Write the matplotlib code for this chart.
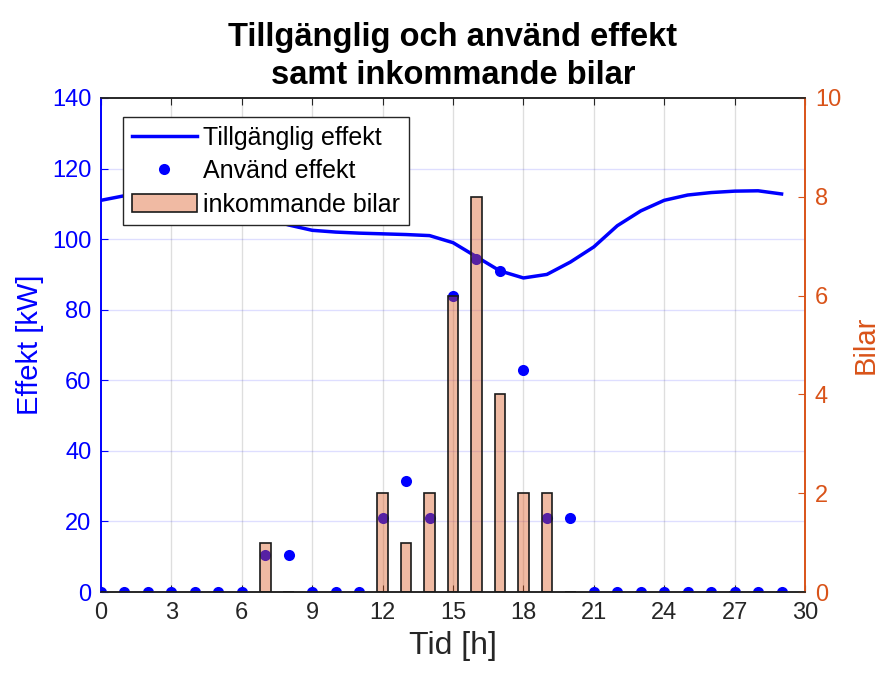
import matplotlib
matplotlib.use("Agg")
import matplotlib.pyplot as plt
from matplotlib.patches import Patch
from matplotlib.lines import Line2D

plt.rcParams["font.family"] = ["Liberation Sans", "DejaVu Sans"]

# hourly data
hours = list(range(30))
tillganglig = [111.0, 112.3, 113.0, 112.8, 112.0, 110.5, 108.5, 106.0, 104.0, 102.5,
               102.0, 101.7, 101.5, 101.3, 101.0, 99.0, 95.0, 91.0, 89.0, 90.0,
               93.5, 97.8, 103.8, 108.0, 111.0, 112.5, 113.2, 113.6, 113.7, 112.8]
anvand = [0, 0, 0, 0, 0, 0, 0, 10.5, 10.5, 0,
          0, 0, 21, 31.5, 21, 84, 94.5, 91, 63, 21,
          21, 0, 0, 0, 0, 0, 0, 0, 0, 0]
bilar = [0, 0, 0, 0, 0, 0, 0, 1, 0, 0,
         0, 0, 2, 1, 2, 6, 8, 4, 2, 2,
         0, 0, 0, 0, 0, 0, 0, 0, 0, 0]

x_ticks = list(range(0, 31, 3))
left_ticks = list(range(0, 141, 20))
right_ticks = list(range(0, 11, 2))

BLUE = "#0000FF"
ORANGE = "#D95319"

fig = plt.figure(figsize=(8.83, 6.79), dpi=100)
ax = fig.add_axes([0.1144, 0.1281, 0.7973, 0.7276])
ax2 = ax.twinx()

ax.plot(hours, tillganglig, color=BLUE, linewidth=2.5, zorder=3)
ax.plot(hours, anvand, linestyle="none", marker="o", markersize=8,
        color=BLUE, markeredgewidth=0, zorder=4)

# bars on the right axis, semi-transparent so the dots show through
ax2.bar(hours, bilar, width=0.45, facecolor=ORANGE, alpha=0.4,
        edgecolor="none", zorder=2)
ax2.bar(hours, bilar, width=0.45, facecolor="none", edgecolor="#1a1a1a",
        linewidth=1.2, zorder=3)

ax.set_xlim(0, 30)
ax.set_ylim(0, 140)
ax2.set_ylim(0, 10)
ax.set_xticks(x_ticks)
ax.set_yticks(left_ticks)
ax2.set_yticks(right_ticks)

# grids: gray verticals, light blue horizontals
for t in x_ticks[1:-1]:
    ax.axvline(t, color="#000000", alpha=0.13, linewidth=1.0, zorder=0)
for t in left_ticks[1:-1]:
    ax.axhline(t, color=BLUE, alpha=0.13, linewidth=1.0, zorder=0)

ax.tick_params(axis="x", direction="in", length=5, labelsize=17,
               labelcolor="#262626", color="#262626", top=True, pad=7)
ax.tick_params(axis="y", direction="in", length=5, labelsize=17,
               labelcolor=BLUE, color=BLUE, pad=7)
ax2.tick_params(axis="y", direction="in", length=5, labelsize=17,
                labelcolor=ORANGE, color=ORANGE, pad=7)

for a in (ax, ax2):
    a.spines["top"].set_color("#262626")
    a.spines["bottom"].set_color("#262626")
    a.spines["left"].set_color(BLUE)
    a.spines["right"].set_color(ORANGE)
    for s in a.spines.values():
        s.set_linewidth(1.2)

ax.set_xlabel("Tid [h]", fontsize=23, color="#262626", labelpad=5)
ax.set_ylabel("Effekt [kW]", fontsize=21, color=BLUE, labelpad=6)
ax2.set_ylabel("Bilar", fontsize=21, color=ORANGE, labelpad=8)
ax.set_title("Tillgänglig och använd effekt\nsamt inkommande bilar",
             fontsize=23.5, fontweight="bold", linespacing=1.3, pad=10)

handles = [
    Line2D([], [], color=BLUE, linewidth=2.5),
    Line2D([], [], linestyle="none", marker="o", markersize=8,
           color=BLUE, markeredgewidth=0),
    Patch(facecolor="#F0BAA3", edgecolor="#1a1a1a", linewidth=1.2),
]
labels = ["Tillgänglig effekt", "Använd effekt", "inkommande bilar"]
leg = ax2.legend(handles, labels, loc="upper left", bbox_to_anchor=(0.031, 0.962),
                 fontsize=18, frameon=True, fancybox=False, framealpha=1,
                 edgecolor="#262626", handlelength=2.6, handletextpad=0.25,
                 borderpad=0.35, labelspacing=0.38, borderaxespad=0)
leg.get_frame().set_linewidth(1.0)
leg.set_zorder(10)

fig.savefig("out.png", dpi=100)
